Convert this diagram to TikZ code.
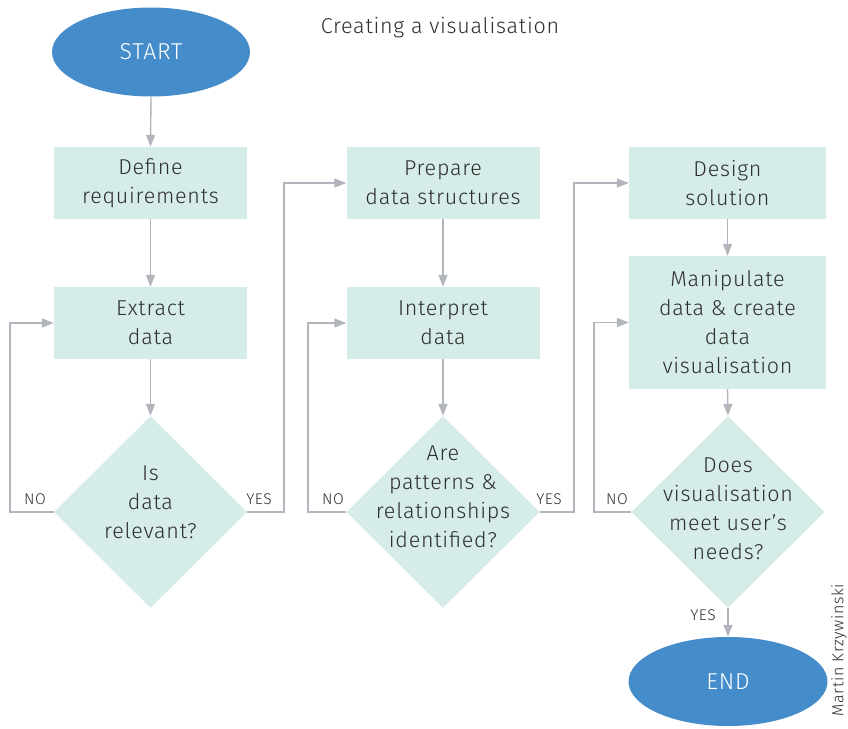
\documentclass[tikz,border=0pt]{standalone}
\usepackage{fontspec}
\setmainfont{Fira Sans Light}[LetterSpace=3.5]
\usetikzlibrary{shapes.geometric,arrows.meta}
\definecolor{boxfill}{HTML}{D6ECE8}
\definecolor{ovalblue}{HTML}{458CCA}
\definecolor{linegray}{HTML}{B2B6BC}
\definecolor{txt}{HTML}{2E2E2E}
\tikzset{
  boxnode/.style={rectangle, fill=boxfill, minimum width=193pt, minimum height=72pt, inner sep=0pt, align=center, text=txt, font=\fontsize{21.5}{29}\selectfont},
  diamnode/.style={diamond, fill=boxfill, minimum width=193pt, minimum height=192pt, inner sep=0pt},
  dtext/.style={align=center, text=txt, font=\fontsize{21.5}{29}\selectfont, inner sep=0pt},
  ovalnode/.style={ellipse, fill=ovalblue, inner sep=0pt, text=white, font=\fontsize{23}{26}\selectfont},
  arr/.style={draw=linegray, line width=1.4pt, -{Triangle[length=12pt,width=9pt]}},
  yn/.style={text=txt, font=\fontsize{15.5}{17}\selectfont, inner sep=0pt},
}
\begin{document}
\begin{tikzpicture}[x=1pt,y=-1pt]
\useasboundingbox (0,0) rectangle (848,728);
% title
\node[text=txt, font=\fontsize{21.5}{24}\selectfont] (title) at (440,28) {Creating a visualisation};
% column 1
\node[ovalnode, minimum width=198pt, minimum height=89pt] (start) at (151,52) {START};
\node[boxnode] (def) at (150.5,183) {Define\\requirements};
\node[boxnode] (ext) at (150.5,323) {Extract\\data};
\node[diamnode] (d1) at (150.5,512) {};
\node[dtext] (d1t) at (150.5,502) {Is\\data\\relevant?};
% column 2
\node[boxnode] (prep) at (443,183) {Prepare\\data structures};
\node[boxnode] (interp) at (443,323) {Interpret\\data};
\node[diamnode] (d2) at (443,512) {};
\node[dtext] (d2t) at (443,497) {Are\\patterns \&\\relationships\\identified?};
% column 3
\node[boxnode, minimum width=197pt] (design) at (727.5,183) {Design\\solution};
\node[boxnode, minimum width=197pt, minimum height=133pt] (manip) at (727.5,322.5) {Manipulate\\data \& create\\data\\visualisation};
\node[diamnode] (d3) at (728,512) {};
\node[dtext] (d3t) at (728,509) {Does\\visualisation\\meet user’s\\needs?};
\node[ovalnode, minimum width=199pt, minimum height=89pt] (end) at (728,681.5) {END};
% credit
\node[rotate=90, text=txt, font=\fontsize{16}{19}\selectfont, inner sep=0pt] (credit) at (839,650) {Martin Krzywinski};
% coordinates for loops
\coordinate (l1) at (10,512);
\coordinate (r1) at (284,512);
\coordinate (l2) at (308,512);
\coordinate (r2) at (574,512);
\coordinate (l3) at (594,512);
% straight arrows
\draw[arr] (start.south) -- (def.north);
\draw[arr] (def.south) -- (ext.north);
\draw[arr] (ext.south) -- (d1.north);
\draw[arr] (prep.south) -- (interp.north);
\draw[arr] (interp.south) -- (d2.north);
\draw[arr] (design.south) -- (manip.north);
\draw[arr] (manip.south) -- (d3.north);
\draw[arr] (d3.south) -- (end.north);
% loops
\draw[arr] (d1.west) -- (l1) |- (ext.west);
\draw[arr] (d1.east) -- (r1) |- (prep.west);
\draw[arr] (d2.west) -- (l2) |- (interp.west);
\draw[arr] (d2.east) -- (r2) |- (design.west);
\draw[arr] (d3.west) -- (l3) |- (manip.west);
% labels
\node[yn] (no1) at (35,499) {NO};
\node[yn] (yes1) at (259,499) {YES};
\node[yn] (no2) at (333,499) {NO};
\node[yn] (yes2) at (549,499) {YES};
\node[yn] (no3) at (617,499) {NO};
\node[yn] (yes3) at (703,615) {YES};
\end{tikzpicture}
\end{document}
